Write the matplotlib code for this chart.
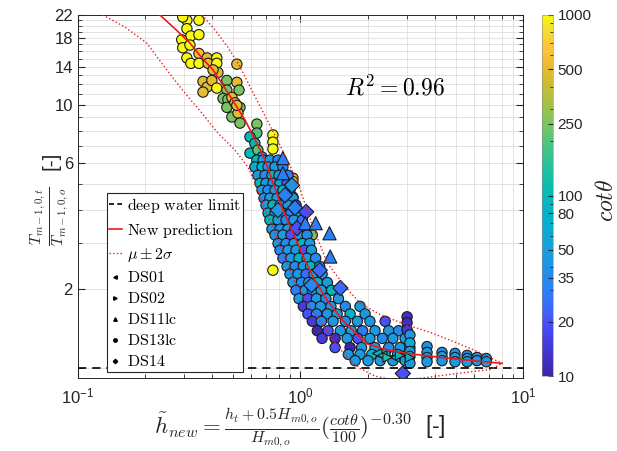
import numpy as np
import matplotlib
matplotlib.use('Agg')
import matplotlib.pyplot as plt
from matplotlib.colors import LinearSegmentedColormap, LogNorm
from matplotlib.lines import Line2D
from matplotlib.ticker import FixedLocator, NullFormatter, LogLocator

plt.rcParams['mathtext.fontset'] = 'cm'
plt.rcParams['font.family'] = ['Liberation Sans', 'DejaVu Sans']

# ---- data ----
# DS13lc (circles): top cluster
top_x = [0.309, 0.350, 0.296, 0.309, 0.322, 0.350, 0.293, 0.296, 0.319, 0.309, 0.322, 0.350, 0.350,
         0.381, 0.385, 0.421, 0.421, 0.426, 0.405, 0.365, 0.381, 0.400, 0.365, 0.421, 0.518, 0.518,
         0.467, 0.467, 0.449, 0.472, 0.467, 0.492, 0.508, 0.530, 0.535, 0.492, 0.524, 0.535, 0.518]
top_y = [21.0, 21.0, 21.6, 19.5, 18.3, 18.5, 17.7, 16.5, 16.9, 15.1, 14.4, 15.7, 14.4,
         15.1, 14.4, 15.1, 14.4, 13.3, 13.6, 12.3, 11.7, 12.4, 11.2, 11.6, 14.3, 12.2,
         12.4, 11.4, 10.6, 10.5, 9.80, 10.7, 10.2, 11.4, 9.80, 9.01, 9.33, 8.54, 9.97]
top_cot = [1000, 1000, 1000, 1000, 1000, 1000, 1000, 1000, 1000, 1000, 1000, 600, 1000,
           500, 500, 1000, 1000, 500, 500, 500, 500, 500, 500, 1000, 500, 500,
           250, 250, 250, 250, 250, 500, 500, 250, 250, 250, 500, 250, 500]

# circles: middle group / outliers
mid_x = [0.637, 0.637, 0.593, 0.624, 0.593, 0.644, 0.672, 0.752, 0.752, 0.752, 0.925, 0.925, 0.925,
         0.752, 0.752, 0.925, 1.13]
mid_y = [8.47, 7.83, 7.57, 7.16, 6.57, 6.75, 6.35, 7.70, 7.23, 6.81, 5.28, 5.12, 4.47,
         3.82, 2.36, 2.57, 3.21]
mid_cot = [250, 200, 100, 100, 100, 200, 50, 1000, 1000, 1000, 500, 500, 500,
           1000, 1000, 500, 250]

# circles: main band (one line per row)
band_x = [0.637, 0.679, 0.729, 0.793,
          0.624, 0.672, 0.715, 0.768, 0.834,
          0.644, 0.693, 0.745, 0.801, 0.879,
          0.658, 0.700, 0.752, 0.809, 0.870,
          0.672, 0.715, 0.768, 0.834, 0.897,
          0.686, 0.729, 0.785, 0.852, 0.925,
          0.700, 0.752, 0.809, 0.879, 0.955,
          0.715, 0.768, 0.834, 0.906, 0.985,
          0.729, 0.793, 0.861, 0.935, 1.02,
          0.745, 0.809, 0.879, 0.955, 1.04,
          0.768, 0.834, 0.906, 0.985, 1.07,
          0.793, 0.861, 0.935, 1.02, 1.10,
          0.809, 0.879, 0.955, 1.04, 1.12,
          0.834, 0.906, 0.985, 1.07, 1.17,
          0.870, 0.945, 1.03, 1.11, 1.22,
          0.897, 0.975, 1.06, 1.15, 1.25,
          0.925, 1.01, 1.09, 1.19, 1.32,
          0.955, 1.05, 1.13, 1.24, 1.38,
          0.985, 1.08, 1.18, 1.30, 1.48,
          1.03, 1.12, 1.23, 1.37, 1.59, 1.85,
          1.08, 1.18, 1.32, 1.46, 1.67, 1.95,
          1.13, 1.24, 1.40, 1.59, 1.80, 2.05, 2.40,
          1.19, 1.33, 1.51, 1.69, 1.90, 2.16, 2.49, 2.76,
          1.25, 1.43, 1.62, 1.81, 2.05, 2.33, 2.60, 2.95,
          1.43, 1.67, 1.88, 2.16, 2.49, 2.80, 3.10,
          1.64, 1.85, 2.09, 2.40, 2.73, 3.04,
          1.76, 2.01, 2.28, 2.60, 2.95]
band_y = [6.18] * 4 + [5.82] * 5 + [5.41] * 5 + [5.05] * 5 + [4.75] * 5 + [4.43] * 5 + \
         [4.17] * 5 + [3.89] * 5 + [3.66] * 5 + [3.38] * 5 + [3.21] * 5 + [2.98] * 5 + \
         [2.81] * 5 + [2.62] * 5 + [2.44] * 5 + [2.28] * 5 + [2.12] * 5 + [1.98] * 5 + \
         [1.84] * 5 + [1.72] * 6 + [1.61] * 6 + [1.51] * 7 + [1.39] * 8 + [1.30] * 8 + \
         [1.20] * 7 + [1.13] * 6 + [1.07] * 5
band_cot = [100, 45, 45, 35,
            60, 80, 40, 45, 35,
            45, 35, 90, 45, 30,
            100, 45, 35, 60, 20,
            45, 35, 45, 80, 30,
            35, 45, 45, 30, 45,
            45, 90, 35, 45, 20,
            60, 35, 45, 30, 80,
            100, 45, 35, 45, 25,
            45, 35, 45, 80, 45,
            40, 45, 20, 45, 35,
            45, 35, 45, 90, 45,
            35, 45, 45, 20, 45,
            30, 45, 80, 45, 35,
            45, 35, 45, 90, 45,
            40, 45, 25, 45, 35,
            45, 35, 45, 80, 45,
            30, 45, 35, 45, 90,
            45, 20, 45, 35, 45,
            15, 35, 45, 45, 35, 45,
            20, 30, 45, 45, 80, 45,
            15, 35, 45, 35, 45, 45, 20,
            10, 20, 45, 45, 30, 45, 45, 35,
            15, 12, 45, 20, 45, 35, 45, 45,
            20, 10, 45, 45, 35, 45, 45,
            45, 45, 80, 45, 45, 90,
            45, 45, 45, 45, 45]

# circles: right tail columns
tail_x = [3.01, 3.01, 3.01, 3.10, 3.10, 3.10, 3.10, 3.10, 3.70, 3.70, 3.70, 3.70,
          4.32, 4.32, 4.32, 4.94, 4.94, 4.94, 5.60, 5.60, 5.60, 6.20, 6.20, 6.83, 6.83]
tail_y = [1.57, 1.49, 1.40, 1.34, 1.25, 1.16, 1.11, 1.045, 1.21, 1.15, 1.10, 1.06,
          1.15, 1.11, 1.07, 1.14, 1.10, 1.06, 1.12, 1.09, 1.06, 1.10, 1.07, 1.09, 1.06]
tail_cot = [12, 12, 15, 45, 60, 45, 80, 45, 40, 45, 45, 45,
            40, 45, 45, 40, 45, 45, 40, 45, 45, 40, 45, 40, 45]

# DS14 (diamonds)
dia_x = [0.945, 1.51, 2.88, 0.916, 0.852, 0.965, 1.06, 1.22, 1.12, 0.792]
dia_y = [4.07, 2.02, 0.957, 4.96, 4.55, 3.41, 3.93, 2.36, 2.07, 3.99]
dia_cot = [30, 25, 20, 40, 30, 20, 20, 25, 35, 40]

# DS11lc (triangles)
tri_x = [0.834, 0.834, 1.05, 1.17, 1.35, 1.36]
tri_y = [6.29, 5.51, 3.56, 3.56, 3.26, 2.66]
tri_cot = [30, 30, 30, 30, 30, 30]

# DS01 / DS02
ds01_x = [2.21, 2.33, 2.66]
ds01_y = [1.14, 1.12, 1.10]
ds01_cot = [100, 120, 100]
ds02_x = [2.46, 2.80, 3.10]
ds02_y = [1.10, 1.12, 1.10]
ds02_cot = [150, 100, 80]

# fitted curve and +-2 sigma band
pred_x = [0.2336, 0.273, 0.319, 0.361, 0.405, 0.449, 0.497, 0.564, 0.637, 0.693, 0.745, 0.834,
          0.945, 1.048, 1.16, 1.32, 1.55, 1.76, 1.99, 2.40, 3.01, 4.70, 8.05]
pred_y = [22.0, 19.5, 17.2, 15.1, 13.6, 11.9, 10.4, 8.77, 7.16, 6.18, 5.19, 3.99,
          3.15, 2.57, 2.16, 1.81, 1.52, 1.37, 1.24, 1.18, 1.14, 1.09, 1.045]
up_x = [0.361, 0.413, 0.472, 0.524, 0.564, 0.624, 0.672, 0.809, 0.965, 1.12, 1.32, 1.59, 1.85,
        2.28, 2.89, 3.82, 4.70, 6.07, 8.05]
up_y = [22.0, 19.3, 16.6, 14.4, 12.8, 10.8, 9.57, 7.04, 5.19, 3.56, 2.51, 2.04, 1.77,
        1.60, 1.48, 1.37, 1.28, 1.17, 1.045]
lo_x = [0.1295, 0.1626, 0.204, 0.246, 0.303, 0.361, 0.426, 0.508, 0.581, 0.637, 0.693, 0.793,
        0.935, 1.13, 1.40, 1.62, 1.85, 2.16, 2.66, 3.55, 5.05, 7.11, 8.05]
lo_y = [22.0, 19.8, 17.2, 13.9, 11.1, 9.32, 7.82, 6.75, 5.81, 4.87, 3.99, 3.07,
        2.16, 1.66, 1.28, 1.10, 1.0, 0.935, 0.90, 0.92, 0.957, 0.99, 1.045]
deep_y = 1.0

cbar_ticks = [10, 20, 35, 50, 80, 100, 250, 500, 1000]
y_ticks = [2, 6, 10, 14, 18, 22]

# parula-like colormap
parula = LinearSegmentedColormap.from_list('parula', [
    (0.000, (0.2422, 0.1504, 0.6603)), (0.111, (0.2780, 0.2556, 0.9150)),
    (0.143, (0.2810, 0.3000, 0.9770)), (0.175, (0.2637, 0.3812, 0.9847)),
    (0.206, (0.2052, 0.4456, 0.9854)), (0.238, (0.1707, 0.4979, 0.9678)),
    (0.302, (0.1291, 0.5750, 0.8931)), (0.365, (0.0844, 0.6383, 0.8556)),
    (0.429, (0.0179, 0.6875, 0.8026)), (0.492, (0.0046, 0.7233, 0.7295)),
    (0.556, (0.0940, 0.7495, 0.6471)), (0.619, (0.2381, 0.7669, 0.5450)),
    (0.683, (0.4305, 0.7725, 0.4104)), (0.746, (0.6183, 0.7623, 0.2847)),
    (0.810, (0.7941, 0.7389, 0.1968)), (0.873, (0.9527, 0.7322, 0.1981)),
    (0.905, (0.9984, 0.7586, 0.2286)), (0.937, (0.9738, 0.8188, 0.2136)),
    (0.968, (0.9590, 0.8851, 0.1713)), (1.000, (0.9763, 0.9831, 0.0538))])
norm = LogNorm(vmin=10, vmax=1000)

fig = plt.figure(figsize=(6.17, 4.51), dpi=100)
ax = fig.add_axes([0.126, 0.162, 0.722, 0.805])
cax = fig.add_axes([0.878, 0.166, 0.018, 0.801])

ec = '#1a1a1a'
cir_x = top_x + mid_x + band_x + tail_x
cir_y = top_y + mid_y + band_y + tail_y
cir_c = top_cot + mid_cot + band_cot + tail_cot
sc = ax.scatter(cir_x, cir_y, c=cir_c, cmap=parula, norm=norm, s=55, marker='o',
                edgecolors=ec, linewidths=0.8, zorder=2)
ax.scatter(dia_x, dia_y, c=dia_cot, cmap=parula, norm=norm, s=60, marker='D',
           edgecolors=ec, linewidths=0.8, zorder=2)
ax.scatter(tri_x, tri_y, c=tri_cot, cmap=parula, norm=norm, s=90, marker='^',
           edgecolors=ec, linewidths=0.8, zorder=2)
ax.scatter(ds01_x, ds01_y, c=ds01_cot, cmap=parula, norm=norm, s=45, marker='<',
           edgecolors=ec, linewidths=0.8, zorder=2)
ax.scatter(ds02_x, ds02_y, c=ds02_cot, cmap=parula, norm=norm, s=45, marker='>',
           edgecolors=ec, linewidths=0.8, zorder=2)

red = (0.92, 0.1, 0.1)
ax.axhline(deep_y, color='k', ls=(0, (5, 3.5)), lw=1.2, zorder=3)
ax.plot(pred_x, pred_y, color=red, lw=1.2, zorder=4)
ax.plot(up_x, up_y, color=red, lw=1.0, ls=':', zorder=4)
ax.plot(lo_x, lo_y, color=red, lw=1.0, ls=':', zorder=4)

ax.set_xscale('log')
ax.set_yscale('log')
ax.set_xlim(0.1, 10)
ax.set_ylim(0.92, 22)
ax.set_yticks(y_ticks)
ax.set_yticklabels([str(v) for v in y_ticks])
ax.yaxis.set_minor_locator(FixedLocator([v for v in range(1, 23) if v not in y_ticks]))
ax.yaxis.set_minor_formatter(NullFormatter())
ax.xaxis.set_minor_locator(LogLocator(base=10, subs=np.arange(2, 10)))
ax.xaxis.set_minor_formatter(NullFormatter())
ax.grid(True, which='both', color='#dedede', lw=0.6, zorder=0)
ax.set_axisbelow(True)
ax.tick_params(which='both', direction='in', top=True, right=True, colors='#262626',
               labelsize=12)
ax.tick_params(axis='x', which='major', pad=6)
ax.tick_params(which='major', length=5)
ax.tick_params(which='minor', length=3)
for s in ax.spines.values():
    s.set_color('#262626')
    s.set_linewidth(0.7)

ax.text(2.65, 11.6, r'$R^2 = 0.96$', fontsize=17, ha='center', va='center')

handles = [Line2D([], [], color='k', ls=(0, (3, 2)), lw=1.2),
           Line2D([], [], color=red, lw=1.2),
           Line2D([], [], color=red, lw=1.0, ls=':'),
           Line2D([], [], color='k', marker='<', ms=2.5, ls='none'),
           Line2D([], [], color='k', marker='>', ms=2.5, ls='none'),
           Line2D([], [], color='k', marker='^', ms=2.5, ls='none'),
           Line2D([], [], color='k', marker='o', ms=2.5, ls='none'),
           Line2D([], [], color='k', marker='D', ms=2.2, ls='none')]
labels = [r'$\mathrm{deep\ water\ limit}$', r'$\mathrm{New\ prediction}$', r'$\mu \pm 2\sigma$',
          r'$\mathrm{DS01}$', r'$\mathrm{DS02}$', r'$\mathrm{DS11lc}$', r'$\mathrm{DS13lc}$',
          r'$\mathrm{DS14}$']
leg = ax.legend(handles, labels, loc='lower left', bbox_to_anchor=(0.065, 0.017),
                borderaxespad=0, fontsize=11.5, handlelength=0.8, handletextpad=0.3,
                borderpad=0.15, labelspacing=0.38, fancybox=False, framealpha=1)
leg.get_frame().set_edgecolor('#262626')
leg.get_frame().set_linewidth(0.8)
leg.set_zorder(5)

cb = fig.colorbar(sc, cax=cax)
cb.set_ticks(cbar_ticks)
cb.set_ticklabels([str(v) for v in cbar_ticks])
cb.ax.tick_params(which='both', direction='in', labelsize=11, colors='#262626')
cb.outline.set_linewidth(0.4)
cb.outline.set_edgecolor('#888888')

fig.text(50 / 617, 1 - 216 / 451, r'$\frac{T_{m-1,0,t}}{T_{m-1,0,o}}$', rotation=90,
         ha='center', va='center', fontsize=16, color='#262626')
fig.text(51 / 617, 1 - 161 / 451, '[-]', rotation=90,
         ha='center', va='center', fontsize=15, color='#262626')
fig.text(300 / 617, 1 - 428 / 451,
         r'$\tilde{h}_{new} = \frac{h_t+0.5H_{m0,o}}{H_{m0,o}}(\frac{cot\theta}{100})^{-0.30}$  [-]',
         ha='center', va='center', fontsize=16.5, color='#262626')
fig.text(607 / 617, 1 - 200 / 451, r'$cot\theta$', rotation=90, ha='center', va='center',
         fontsize=17, color='#262626')

fig.savefig('out.png', dpi=100)
